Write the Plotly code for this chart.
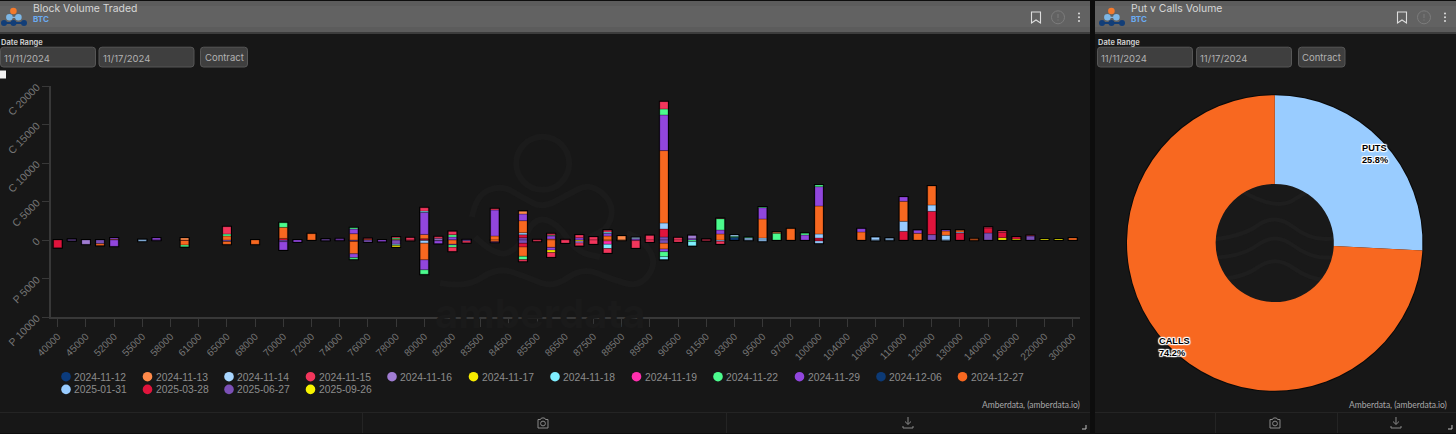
import plotly.graph_objects as go

W, H = 1456, 434

strikes = [40000, 42000, 45000, 50000, 52000, 54000, 55000, 56000, 58000, 60000, 61000, 62000,
           65000, 66000, 68000, 69000, 70000, 71000, 72000, 73000, 74000, 75000, 76000, 77000,
           78000, 79000, 80000, 81000, 82000, 83000, 83500, 84000, 84500, 85000, 85500, 86000,
           86500, 87000, 87500, 88000, 88500, 89000, 89500, 90000, 90500, 91000, 91500, 92000,
           93000, 94000, 95000, 96000, 97000, 98000, 100000, 102000, 104000, 105000, 106000,
           108000, 110000, 115000, 120000, 125000, 130000, 135000, 140000, 150000, 160000,
           200000, 220000, 280000, 300000]
strike_ticks = strikes[::2]

value_ticks = [-10000, -5000, 0, 5000, 10000, 15000, 20000]
value_labels = ['P 10000', 'P 5000', '0', 'C 5000', 'C 10000', 'C 15000', 'C 20000']

expiries = ['2024-11-12', '2024-11-13', '2024-11-14', '2024-11-15', '2024-11-16', '2024-11-17',
            '2024-11-18', '2024-11-19', '2024-11-22', '2024-11-29', '2024-12-06', '2024-12-27',
            '2025-01-31', '2025-03-28', '2025-06-27', '2025-09-26']
expiry_colors = ['#0b3b7c', '#ff8a4a', '#a8d6ff', '#f2365c', '#a07cd2', '#f7ec00',
                 '#7feeff', '#ff2fae', '#4cfb8e', '#9146dd', '#0c3a76', '#f86820',
                 '#99ccff', '#e0143c', '#7b50b6', '#f7f300']

# call volume per expiry, keyed by strike
calls_1206 = {93000: 350}
calls_1113 = {60000: 260, 85000: 350, 88500: 520, 96000: 130}
calls_1114 = {89000: 170, 93000: 170}
calls_1115 = {65000: 950, 76000: 100, 78000: 130, 79000: 300, 80000: 430, 81000: 200, 82000: 430,
              84000: 170, 85500: 40, 86000: 170, 86500: 30, 87000: 350, 87500: 390, 88000: 220,
              89500: 600, 90000: 950, 90500: 300, 91500: 90, 92000: 30, 140000: 90, 150000: 170,
              200000: 60}
calls_1116 = {81000: 220, 91000: 430}
calls_1118 = {80000: 170, 88000: 170}
calls_1122 = {65000: 260, 70000: 600, 75000: 170, 78000: 150, 82000: 300, 86000: 100, 90000: 780,
              92000: 1470, 93000: 130, 94000: 80, 95000: 90, 96000: 870, 98000: 220, 100000: 220}
calls_1129 = {52000: 160, 56000: 260, 74000: 170, 75000: 600, 80000: 2860, 82000: 350, 84000: 3380,
              85000: 870, 86000: 400, 87000: 300, 88000: 350, 89000: 170, 90000: 4630, 91000: 170,
              92000: 520, 95000: 1470, 98000: 650, 100000: 2510, 105000: 430, 110000: 560,
              115000: 390, 125000: 130}
calls_1227 = {52000: 100, 65000: 520, 70000: 1430, 72000: 820, 75000: 820, 76000: 100, 78000: 110,
              80000: 560, 82000: 40, 84000: 520, 85000: 1560, 86000: 130, 88000: 520, 90000: 9400,
              92000: 780, 95000: 2470, 97000: 1470, 100000: 3640, 105000: 1040, 110000: 2600,
              115000: 870, 120000: 2470, 125000: 560, 130000: 220, 135000: 170, 300000: 260}
calls_0131 = {55000: 60, 85000: 260, 90000: 780, 94000: 260, 95000: 260, 100000: 520, 106000: 350,
              108000: 220, 110000: 1300, 120000: 820, 125000: 610, 130000: 130}
calls_0328 = {70000: 210, 80000: 170, 85000: 390, 90000: 1040, 100000: 260, 110000: 1130,
              120000: 3030, 130000: 910, 140000: 650, 150000: 690, 160000: 260}
calls_0627 = {42000: 90, 73000: 130, 83000: 40, 85000: 300, 90000: 390, 120000: 700, 140000: 910,
              200000: 520}
calls_0926 = {150000: 300, 160000: 130, 220000: 130, 280000: 130}

# put volume per expiry, keyed by strike
puts_1113 = {88500: -40}
puts_1115 = {79000: -50, 82000: -520, 83000: -220, 85000: -220, 85500: -170, 86000: -610,
             86500: -390, 87000: -350, 87500: -520, 88000: -560, 89000: -960, 89500: -260,
             90500: -260, 91500: -90, 92000: -350}
puts_1116 = {45000: -560, 87000: -260}
puts_1117 = {78000: -170, 86000: -300, 87000: -130}
puts_1118 = {78000: -170, 88000: -560, 90000: -350, 91000: -560}
puts_1119 = {88000: -430}
puts_1122 = {60000: -220, 75000: -200, 80000: -560, 82000: -300, 85000: -430, 90000: -650, 91000: -200}
puts_1129 = {52000: -820, 56000: -30, 70000: -1080, 71000: -250, 74000: -40, 75000: -500, 77000: -200,
             80000: -1300, 81000: -350, 82000: -90, 84000: -60, 86000: -350, 89000: -80, 90000: -350}
puts_1227 = {50000: -250, 60000: -600, 65000: -350, 68000: -560, 75000: -1600, 80000: -2170,
             82000: -560, 84000: -220, 85000: -1210, 86000: -960, 88000: -130, 90000: -740, 135000: -30}
puts_0131 = {55000: -170, 80000: -350, 92000: -170, 94000: -40, 95000: -170, 100000: -300,
             106000: -60, 108000: -40, 125000: -60}
puts_0328 = {40000: -1000, 60000: -60, 75000: -80, 80000: -60, 85000: -480, 100000: -130}
puts_0627 = {42000: -90, 50000: -480, 65000: -200, 70000: -220, 73000: -60, 75000: -120, 76000: -260,
             78000: -560, 81000: -120, 83000: -130, 85000: -430, 90000: -430}

pie_labels = ['PUTS', 'CALLS']
pie_values = [25.8, 74.2]
pie_colors = ['#99ccff', '#f86820']

calls_by_expiry = [{}, calls_1113, calls_1114, calls_1115, calls_1116, {}, calls_1118, {}, calls_1122,
                   calls_1129, calls_1206, calls_1227, calls_0131, calls_0328, calls_0627, calls_0926]
puts_by_expiry = [{}, puts_1113, {}, puts_1115, puts_1116, puts_1117, puts_1118, puts_1119, puts_1122,
                  puts_1129, {}, puts_1227, puts_0131, puts_0328, puts_0627, {}]


def px(x):
    return x / W


def py(y):
    return 1 - y / H


def pt(x, y):
    return f'{px(x):.5f},{py(y):.5f}'


def rect(x0, y0, x1, y1, fill, line=None, width=1):
    return dict(type='rect', xref='paper', yref='paper', x0=px(x0), x1=px(x1), y0=py(y0), y1=py(y1),
                fillcolor=fill, line=dict(color=line or fill, width=width if line else 0), layer='below')


def rounded(x0, y0, x1, y1, fill, line, r=3):
    d = (f'M {pt(x0 + r, y0)} L {pt(x1 - r, y0)} Q {pt(x1, y0)} {pt(x1, y0 + r)} L {pt(x1, y1 - r)} '
         f'Q {pt(x1, y1)} {pt(x1 - r, y1)} L {pt(x0 + r, y1)} Q {pt(x0, y1)} {pt(x0, y1 - r)} '
         f'L {pt(x0, y0 + r)} Q {pt(x0, y0)} {pt(x0 + r, y0)} Z')
    return dict(type='path', xref='paper', yref='paper', path=d, fillcolor=fill,
                line=dict(color=line, width=1), layer='below')


def circle(cx, cy, r, fill='rgba(0,0,0,0)', line=None, width=1):
    return dict(type='circle', xref='paper', yref='paper', x0=px(cx - r), x1=px(cx + r),
                y0=py(cy - r), y1=py(cy + r), fillcolor=fill,
                line=dict(color=line or fill, width=width if line else 0), layer='below')


def poly(points, color, width=1, close=False):
    d = 'M ' + ' L '.join(pt(x, y) for x, y in points) + (' Z' if close else '')
    return dict(type='path', xref='paper', yref='paper', path=d, line=dict(color=color, width=width), layer='below')


def wave(points, color, width):
    # quadratic curve through the midpoints of the given guide points
    d = 'M ' + pt(*points[0])
    for a, b in zip(points[1:-1], points[2:]):
        d += f' Q {pt(*a)} {pt((a[0] + b[0]) / 2, (a[1] + b[1]) / 2)}'
    d += ' L ' + pt(*points[-1])
    return dict(type='path', xref='paper', yref='paper', path=d, line=dict(color=color, width=width), layer='below')


def label(x, y, text, size=10, color='#aaaaaa', family='Inter', anchor='left', **kw):
    return dict(xref='paper', yref='paper', x=px(x), y=py(y), text=text, showarrow=False, xanchor=anchor,
                yanchor='middle', borderpad=0, borderwidth=0, align=anchor,
                font=dict(size=size, color=color, family=family, **kw))


shapes = []
notes = []

# page and panels
shapes.append(rect(0, 0, W, H, '#0d0d0d'))
for x0, x1 in [(0, 1090), (1095, 1456)]:
    shapes.append(rect(x0, 1, x1, 433, '#171717'))
    shapes.append(rect(x0, 1, x1, 33, '#5c5c5c'))
    shapes.append(rect(x0, 6, x1, 27, '#626262'))
    shapes.append(rect(x0, 32, x1, 34, '#3c3c3c'))
    shapes.append(rect(x0, 412, x1, 413, '#242424'))

# faint logo behind the bars
mark = '#1b1b1b'
shapes.append(circle(542.7, 163.3, 26.5, line=mark, width=6))
shapes.append(wave([(472, 217), (476, 195), (502, 185), (523, 198), (543, 208), (567, 195), (590, 183),
                    (613, 202), (610, 227), (590, 237)], mark, 6))
shapes.append(wave([(475, 237), (497, 258), (520, 247), (535, 217), (557, 223), (577, 252), (600, 257)], mark, 6))
shapes.append(wave([(440, 283), (467, 288), (497, 267), (527, 277), (553, 288), (583, 267), (613, 280),
                    (640, 287), (657, 263), (643, 240), (627, 233)], mark, 6))
notes.append(label(540, 313, 'amberdata', 40, '#1a1a1a', 'Inter', 'center', weight='bold'))


# panel headers
def header(off, title, field_x, right_icons, field_w):
    shapes.append(poly([(off + 9.5, 17.3), (off + 18.5, 17.3)], '#9cc9ef', 1))
    shapes.append(circle(off + 13.4, 11, 3.3, '#f47a2c'))
    shapes.append(circle(off + 9.4, 17.3, 3.3, '#7db7e6'))
    shapes.append(circle(off + 18.4, 17.3, 3.3, '#7db7e6'))
    shapes.append(poly([(off + 4, 23), (off + 24, 23)], '#123e78', 2))
    for cx in (4, 13.5, 24):
        shapes.append(circle(off + cx, 23, 3, '#123e78'))
    notes.append(label(off + 33.3, 8.6, title, 10.4, '#d6d6d6'))
    notes.append(label(off + 33.3, 19.4, 'BTC', 8, '#6aaaf0', weight='bold'))
    notes.append(label(field_x + 0.6, 42.5, 'Date Range', 7.5, '#c8c8c8', weight='bold'))
    for (x0, x1), text in zip(field_w[:2], ['11/11/2024', '11/17/2024']):
        shapes.append(rounded(x0, 47.2, x1, 67, '#3f3f3f', '#575757'))
        notes.append(label(x0 + 3.5, 58.5, text, 9.5, '#b2b2b2'))
    x0, x1 = field_w[2]
    shapes.append(rounded(x0, 47.2, x1, 67, '#3f3f3f', '#575757'))
    notes.append(label((x0 + x1) / 2, 58, 'Contract', 9.5, '#b2b2b2', anchor='center'))
    bx, ix, dx = right_icons
    shapes.append(poly([(bx - 4.5, 12), (bx + 4.5, 12), (bx + 4.5, 23), (bx, 20), (bx - 4.5, 23)], '#dddddd', 1.1, True))
    shapes.append(circle(ix, 17.3, 6.5, line='#7c7c7c', width=1))
    shapes.append(poly([(ix, 14), (ix, 18)], '#7c7c7c', 1))
    shapes.append(poly([(ix, 19.5), (ix, 20.5)], '#7c7c7c', 1))
    for cy in (13.5, 17.3, 21):
        shapes.append(circle(dx, cy, 1, '#dddddd'))


header(0, 'Block Volume Traded', 0, (1036, 1058, 1079), [(0.5, 95.5), (99, 194), (200.5, 247.5)])
header(1098, 'Put v Calls Volume', 1097.5, (1402, 1424, 1445), [(1097.5, 1192.5), (1196.5, 1291.5), (1298.5, 1345)])

# little white box above the y axis
shapes.append(rect(0, 70.5, 6, 78.5, '#f2f2f2'))


# footers
def footer(credit_x, camera_x, download_x, dividers, corner_x):
    notes.append(label(credit_x, 405, 'Amberdata, (amberdata.io)', 8.5, '#a8a8a8', 'Lato', 'right'))
    for x in dividers:
        shapes.append(rect(x, 413, x + 1, 433, '#242424'))
    c = '#8a8a8a'
    shapes.append(poly([(camera_x - 5, 419.5), (camera_x - 2.5, 419.5), (camera_x - 1.5, 418), (camera_x + 1.5, 418),
                        (camera_x + 2.5, 419.5), (camera_x + 5, 419.5), (camera_x + 5, 428), (camera_x - 5, 428)], c, 1, True))
    shapes.append(circle(camera_x, 423.5, 2.4, line=c))
    shapes.append(poly([(download_x, 417), (download_x, 424)], c))
    shapes.append(poly([(download_x - 3, 421.5), (download_x, 424.5), (download_x + 3, 421.5)], c))
    shapes.append(poly([(download_x - 5, 426), (download_x - 5, 428), (download_x + 5, 428), (download_x + 5, 426)], c))
    shapes.append(poly([(corner_x - 4, 429), (corner_x, 429), (corner_x, 425)], '#c0c0c0'))


footer(1080, 543, 908, [362, 726], 1086)
footer(1446.5, 1275, 1396, [1215, 1337], 1452)

# donut surround: dark rim, then the hole with its piece of the faint logo
pie_cx, pie_cy, pie_r = 1274.75, 243, 147.75
shapes.append(circle(pie_cx, pie_cy, pie_r + 1, '#0a0a0a'))
shapes.append(circle(pie_cx, pie_cy, 60, '#191919'))
for guide in [[(1240, 190), (1275, 211), (1310, 190)],
              [(1205, 240), (1240, 238), (1275, 213), (1310, 240), (1345, 238)],
              [(1205, 258), (1240, 258), (1275, 232), (1310, 258), (1345, 257)],
              [(1205, 280), (1240, 280), (1275, 255), (1310, 280), (1345, 280)]]:
    shapes.append(wave(guide, '#1e1e1e', 4))

# legend drawn by hand, the circles sit closer to the labels than plotly's own legend allows
for i, (name, color) in enumerate(zip(expiries, expiry_colors)):
    row, col = divmod(i, 12)
    cx = 66 + col * 81.5
    cy = 376.7 + row * 12.7
    shapes.append(circle(cx, cy, 4.8, color))
    notes.append(label(cx + 8.2, cy + 0.3, name, 10.3, '#8c8c8c', 'Liberation Sans'))

fig = go.Figure()

# black backing bars give each whole stack its dark outline, segments go on the overlay axes
for backing in (calls_by_expiry, puts_by_expiry):
    totals = {}
    for side in backing:
        for k, v in side.items():
            totals[k] = totals.get(k, 0) + v
    fig.add_trace(go.Bar(
        x=[str(k) for k in totals], y=list(totals.values()), width=0.58, hoverinfo='skip', showlegend=False,
        marker=dict(color='#000000', line=dict(color='#000000', width=2)),
    ))

# later expiries sit next to the zero line, so they go in first
for name, color, calls, puts in reversed(list(zip(expiries, expiry_colors, calls_by_expiry, puts_by_expiry))):
    for side in (calls, puts):
        if not side:
            continue
        fig.add_trace(go.Bar(
            x=[str(k) for k in side], y=list(side.values()), name=name, xaxis='x2', yaxis='y2',
            marker=dict(color=color, line=dict(color='rgba(0,0,0,0.45)', width=0.6)), width=0.58, showlegend=False,
        ))

fig.add_trace(go.Pie(
    labels=pie_labels, values=pie_values, sort=False, direction='clockwise', rotation=0, hole=0.4,
    marker=dict(colors=pie_colors, line=dict(width=0)), textinfo='none', showlegend=False,
    domain=dict(x=[px(pie_cx - pie_r), px(pie_cx + pie_r)], y=[py(pie_cy + pie_r), py(pie_cy - pie_r)]),
))

halo = ','.join(f'{a}px {b}px 1px #ffffff' for a in (-1, 0, 1) for b in (-1, 0, 1) if a or b)
for (x, y), name, value in zip([(1362, 154), (1159, 347)], pie_labels, pie_values):
    notes.append(label(x, y, f'{name}<br>{value}%', 9.2, '#000000', 'Liberation Sans', weight='bold', shadow=halo))

fig.update_layout(
    width=W, height=H, autosize=False, margin=dict(l=0, r=0, t=0, b=0, autoexpand=False),
    paper_bgcolor='#0d0d0d', plot_bgcolor='rgba(0,0,0,0)',
    barmode='relative', showlegend=False, shapes=shapes, annotations=notes,
    font=dict(family='Liberation Sans'),
)
strike_names = [str(s) for s in strikes]
x_domain = [px(50.7), px(1079.8)]
y_domain = [py(317), py(86)]
fig.update_layout(
    xaxis=dict(
        type='category', categoryorder='array', categoryarray=strike_names,
        domain=x_domain, anchor='y', range=[-0.5, len(strikes) - 0.5],
        tickmode='array', tickvals=[str(s) for s in strike_ticks], ticktext=[str(s) for s in strike_ticks],
        tickangle=-45, tickfont=dict(size=10, color='#757575'), ticks='outside', ticklen=8, tickcolor='#383838',
        showline=True, linecolor='#383838', linewidth=1.5, showgrid=False, zeroline=False,
    ),
    yaxis=dict(
        domain=y_domain, range=[-10000, 20000], anchor='x',
        tickmode='array', tickvals=value_ticks, ticktext=value_labels,
        tickangle=-45, tickfont=dict(size=10.5, color='#757575'), ticks='outside', ticklen=7, tickcolor='#383838',
        ticklabelstandoff=3,
        showline=True, linecolor='#383838', linewidth=1.5, showgrid=False, zeroline=False,
    ),
    xaxis2=dict(
        type='category', categoryorder='array', categoryarray=strike_names, overlaying='x', anchor='y2',
        domain=x_domain, range=[-0.5, len(strikes) - 0.5], visible=False,
    ),
    yaxis2=dict(domain=y_domain, range=[-10000, 20000], overlaying='y', anchor='x2', visible=False),
)

fig.write_html("out.html", config=dict(displayModeBar=False),
               post_script="document.body.style.margin='0';document.body.style.background='#0d0d0d';")
